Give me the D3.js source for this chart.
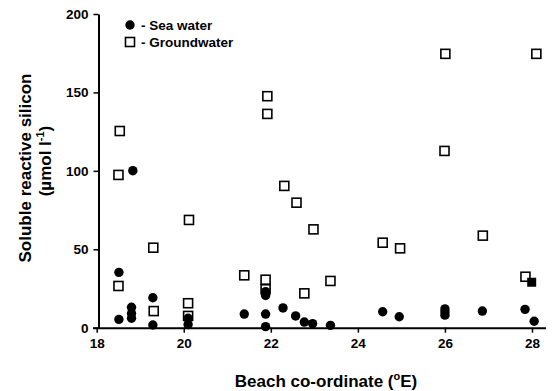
<!DOCTYPE html>
<html>
<head>
<meta charset="utf-8">
<script src="https://cdn.jsdelivr.net/npm/d3@7"></script>
<style>
  body { margin: 0; background: #fff; }
  svg { display: block; font-family: "Liberation Sans", Arial, sans-serif; font-weight: bold; }
</style>
</head>
<body>
<svg></svg>
<script>
// beach co-ordinate (deg E), silicon (umol/l)
const seaWater = [
  [18.51, 35.3], [18.51, 5.3], [18.83, 100.1], [18.8, 13], [18.8, 9], [18.8, 6],
  [19.29, 19.1], [19.29, 1.7], [20.1, 6], [20.1, 2], [21.39, 8.7],
  [21.88, 23], [21.88, 20.5], [21.88, 8.7], [21.88, 0.7],
  [22.28, 12.6], [22.57, 7.5], [22.77, 3.6], [22.96, 2.6], [23.37, 1.5],
  [24.57, 10.2], [24.95, 7], [26.0, 12], [26.0, 10], [26.0, 8],
  [26.86, 10.6], [27.84, 11.7], [28.05, 4.1]
];
const groundwater = [
  [18.53, 125.4], [18.5, 97.4], [18.5, 26.6], [19.3, 51], [19.31, 10.6],
  [20.12, 68.7], [20.1, 15.6], [20.1, 7.5], [21.39, 33.4],
  [21.92, 147.6], [21.92, 136.3], [21.88, 30.6], [21.88, 24.5],
  [22.31, 90.4], [22.59, 79.7], [22.98, 62.7], [22.77, 21.9], [23.37, 29.8],
  [24.57, 54.2], [24.97, 50.6], [26.01, 174.6], [25.99, 112.7],
  [26.87, 58.7], [27.85, 32.5], [28.1, 174.6]
];
const filledSquare = [[27.97, 29.3]];
const xTicks = [18, 20, 22, 24, 26, 28];
const yTicks = [0, 50, 100, 150, 200];

const svg = d3.select('svg').attr('width', 552).attr('height', 391);

const x = d3.scaleLinear().domain([18, 28]).range([96.7, 532]);
const y = d3.scaleLinear().domain([0, 200]).range([327.7, 14]);

// axes
const xAxis = svg.append('g').attr('transform', 'translate(0,327.7)')
  .call(d3.axisBottom(x).tickValues(xTicks).tickSize(5).tickPadding(6).tickSizeOuter(0));
xAxis.select('.domain').attr('d', 'M93,0.5H546');
const yAxis = svg.append('g').attr('transform', 'translate(98.5,0)')
  .call(d3.axisLeft(y).tickValues(yTicks).tickSize(5).tickPadding(5).tickSizeOuter(0));
svg.selectAll('.domain').attr('stroke', '#000').attr('stroke-width', 2);
svg.selectAll('.tick line').attr('stroke', '#000').attr('stroke-width', 1.5);
svg.selectAll('.tick text').attr('font-size', 13.5).attr('font-weight', 'bold')
  .attr('font-family', '"Liberation Sans", Arial, sans-serif').attr('fill', '#000');

// markers
svg.append('g').selectAll('rect.gw').data(groundwater).enter().append('rect')
  .attr('x', d => x(d[0]) - 4.5).attr('y', d => y(d[1]) - 4.5)
  .attr('width', 9).attr('height', 9)
  .attr('fill', '#fff').attr('stroke', '#000').attr('stroke-width', 1.6);

svg.append('g').selectAll('circle').data(seaWater).enter().append('circle')
  .attr('cx', d => x(d[0])).attr('cy', d => y(d[1])).attr('r', 4.7)
  .attr('fill', '#000');

svg.append('g').selectAll('rect.fs').data(filledSquare).enter().append('rect')
  .attr('x', d => x(d[0]) - 3.5).attr('y', d => y(d[1]) - 4)
  .attr('width', 9).attr('height', 9).attr('fill', '#000');

// legend
svg.append('circle').attr('cx', 130).attr('cy', 25).attr('r', 4.7).attr('fill', '#000');
svg.append('rect').attr('x', 125.5).attr('y', 37.5).attr('width', 9).attr('height', 9)
  .attr('fill', '#fff').attr('stroke', '#000').attr('stroke-width', 1.6);
svg.append('text').attr('x', 141).attr('y', 30).attr('font-size', 13.5).text('- Sea water');
svg.append('text').attr('x', 141).attr('y', 47).attr('font-size', 13.5).text('- Groundwater');

// axis titles
const xt = svg.append('text').attr('x', 326).attr('y', 387).attr('text-anchor', 'middle')
  .attr('font-size', 17);
xt.append('tspan').text('Beach co-ordinate (');
xt.append('tspan').attr('font-size', 11).attr('dy', -7).text('o');
xt.append('tspan').attr('dy', 7).text('E)');

svg.append('text').attr('transform', 'translate(31,168) rotate(-90)')
  .attr('text-anchor', 'middle').attr('font-size', 17).text('Soluble reactive silicon');
const yt = svg.append('text').attr('transform', 'translate(51,161) rotate(-90)')
  .attr('text-anchor', 'middle').attr('font-size', 17);
yt.append('tspan').text('(\u00b5mol l');
yt.append('tspan').attr('font-size', 11).attr('dy', -7).text('-1');
yt.append('tspan').attr('dy', 7).text(')');
</script>
</body>
</html>
